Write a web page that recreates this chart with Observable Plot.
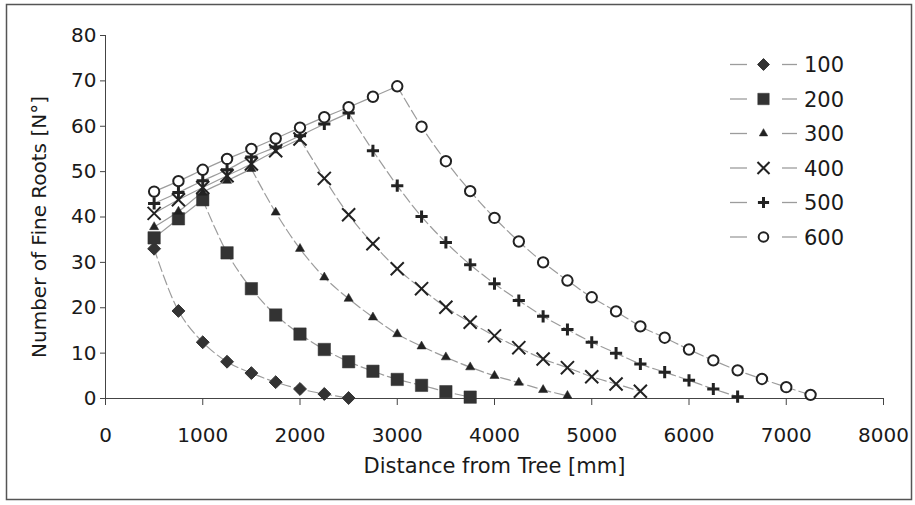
<!DOCTYPE html>
<html>
<head>
<meta charset="utf-8">
<script src="https://cdn.jsdelivr.net/npm/d3@7"></script>
<script src="https://cdn.jsdelivr.net/npm/@observablehq/plot@0.6"></script>
<style>
  html, body { margin: 0; padding: 0; background: #fff; }
  #wrap { position: relative; width: 915px; height: 505px; }
  #legend { position: absolute; left: 0; top: 0; pointer-events: none; }
</style>
</head>
<body>
<div id="wrap"></div>
<script>
// ---- data ----
const distances = [500, 750, 1000, 1250, 1500, 1750, 2000, 2250, 2500, 2750, 3000, 3250, 3500, 3750,
                   4000, 4250, 4500, 4750, 5000, 5250, 5500, 5750, 6000, 6250, 6500, 6750, 7000, 7250];
const seriesNames = ["100", "200", "300", "400", "500", "600"];
const s100 = [33.0, 19.3, 12.4, 8.1, 5.6, 3.6, 2.1, 1.0, 0.1];
const s200 = [35.4, 39.6, 43.8, 32.1, 24.2, 18.4, 14.2, 10.8, 8.1, 6.0, 4.2, 2.9, 1.5, 0.3];
const s300 = [37.8, 41.2, 45.4, 48.0, 50.6, 41.0, 33.0, 26.7, 22.0, 17.9, 14.2, 11.5, 9.1, 6.9, 5.0, 3.5, 1.9, 0.6];
const s400 = [40.8, 43.8, 46.5, 49.1, 51.7, 54.6, 57.2, 48.5, 40.5, 34.1, 28.6, 24.2, 20.1, 16.8, 13.8, 11.2, 8.7, 6.8, 4.8, 3.2, 1.6];
const s500 = [43.0, 45.4, 48.0, 50.4, 53.2, 55.4, 57.9, 60.5, 62.9, 54.6, 46.9, 40.1, 34.4, 29.5, 25.3, 21.6, 18.1, 15.2, 12.4, 10.0, 7.6, 5.8, 4.0, 2.1, 0.4];
const s600 = [45.6, 47.9, 50.4, 52.8, 55.0, 57.3, 59.7, 62.0, 64.2, 66.5, 68.8, 59.9, 52.3, 45.7, 39.8, 34.6, 30.0, 26.0, 22.3, 19.2, 15.9, 13.4, 10.8, 8.4, 6.2, 4.3, 2.5, 0.8];
const xTicks = [0, 1000, 2000, 3000, 4000, 5000, 6000, 7000, 8000];
const yTicks = [0, 10, 20, 30, 40, 50, 60, 70, 80];
const xLabel = "Distance from Tree [mm]";
const yLabel = "Number of Fine Roots [N°]";

// ---- styles per series ----
const seriesValues = [s100, s200, s300, s400, s500, s600];
const styles = [
  {symbol: "diamond2", r: 5.8, fill: "#333", stroke: "#333", strokeWidth: 1},
  {symbol: "square",   r: 7.0, fill: "#333", stroke: "#333", strokeWidth: 0.5},
  {symbol: "triangle", r: 3.4, fill: "#222", stroke: "#222", strokeWidth: 0.5},
  {symbol: "times",    r: 6.0, fill: "none", stroke: "#222", strokeWidth: 2},
  {symbol: "plus",     r: 4.0, fill: "none", stroke: "#222", strokeWidth: 3},
  {symbol: "circle",   r: 5.2, fill: "#fff", stroke: "#222", strokeWidth: 2}
];

const series = seriesNames.map((name, i) => {
  const pts = seriesValues[i].map((v, j) => ({name, x: distances[j], y: v}));
  const peak = d3.maxIndex(pts, d => d.y);
  return {name, pts, rise: pts.slice(0, peak + 1), fall: pts.slice(peak)};
});

const lineColor = "#9c9c9c";
const marks = [];
for (const s of series) {
  if (s.rise.length > 1)
    marks.push(Plot.line(s.rise, {x: "x", y: "y", curve: "catmull-rom", stroke: lineColor, strokeWidth: 1.2}));
  marks.push(Plot.line(s.fall, {x: "x", y: "y", curve: "catmull-rom", stroke: lineColor, strokeWidth: 1.2, strokeDasharray: "10,4"}));
}
series.forEach((s, i) => {
  const st = styles[i];
  marks.push(Plot.dot(s.pts, {x: "x", y: "y", symbol: () => st.symbol, r: st.r,
    fill: st.fill, stroke: st.stroke, strokeWidth: st.strokeWidth}));
});

const chart = Plot.plot({
  width: 915,
  height: 505,
  marginLeft: 105,
  marginRight: 32,
  marginTop: 35,
  marginBottom: 107,
  style: {fontFamily: "'DejaVu Sans', sans-serif", fontSize: "20px", color: "#1a1a1a", background: "#fff"},
  x: {domain: [0, 8000]},
  y: {domain: [0, 80]},
  symbol: {type: "identity"},
  marks: [
    Plot.axisX({ticks: xTicks, tickSize: 7, tickPadding: 22, tickFormat: d => String(d), label: null, stroke: "#444"}),
    Plot.axisY({ticks: yTicks, tickSize: 5, tickPadding: 4, label: null, stroke: "#444"}),
    Plot.ruleX([0], {stroke: "#444"}),
    Plot.ruleY([0], {stroke: "#444"}),
    ...marks,
    Plot.text([xLabel], {frameAnchor: "bottom", dy: 74, fontSize: 21, fill: "#1a1a1a"}),
    Plot.text([yLabel], {frameAnchor: "left", textAnchor: "middle", rotate: -90, dx: -66, dy: 10, fontSize: 20, fill: "#1a1a1a"})
  ]
});

const wrap = document.getElementById("wrap");
wrap.appendChild(chart);

// ---- legend & outer border ----
const svg = d3.select(wrap).append("svg")
  .attr("id", "legend").attr("width", 915).attr("height", 505);
svg.append("rect").attr("x", 6.5).attr("y", 4.5).attr("width", 905).attr("height", 495)
  .attr("fill", "none").attr("stroke", "#555").attr("stroke-width", 1.5);

const symMap = {
  diamond2: d3.symbolDiamond2, square: d3.symbolSquare, triangle: d3.symbolTriangle,
  times: d3.symbolTimes, plus: d3.symbolPlus, circle: d3.symbolCircle
};
seriesNames.forEach((name, i) => {
  const st = styles[i];
  const y = 64.5 + i * 34.5;
  const g = svg.append("g").attr("transform", `translate(0,${y})`);
  g.append("line").attr("x1", 730).attr("x2", 747).attr("y1", 0).attr("y2", 0).attr("stroke", lineColor).attr("stroke-width", 1.3);
  g.append("line").attr("x1", 782).attr("x2", 797).attr("y1", 0).attr("y2", 0).attr("stroke", lineColor).attr("stroke-width", 1.3);
  g.append("path")
    .attr("transform", "translate(763.5,0)")
    .attr("d", d3.symbol(symMap[st.symbol], Math.PI * st.r * st.r * 0.85)())
    .attr("fill", st.fill).attr("stroke", st.stroke).attr("stroke-width", st.strokeWidth);
  g.append("text").attr("x", 804).attr("y", 0).attr("dy", "0.36em")
    .attr("font-family", "'DejaVu Sans', sans-serif").attr("font-size", 21).attr("fill", "#1a1a1a")
    .text(name);
});
</script>
</body>
</html>
